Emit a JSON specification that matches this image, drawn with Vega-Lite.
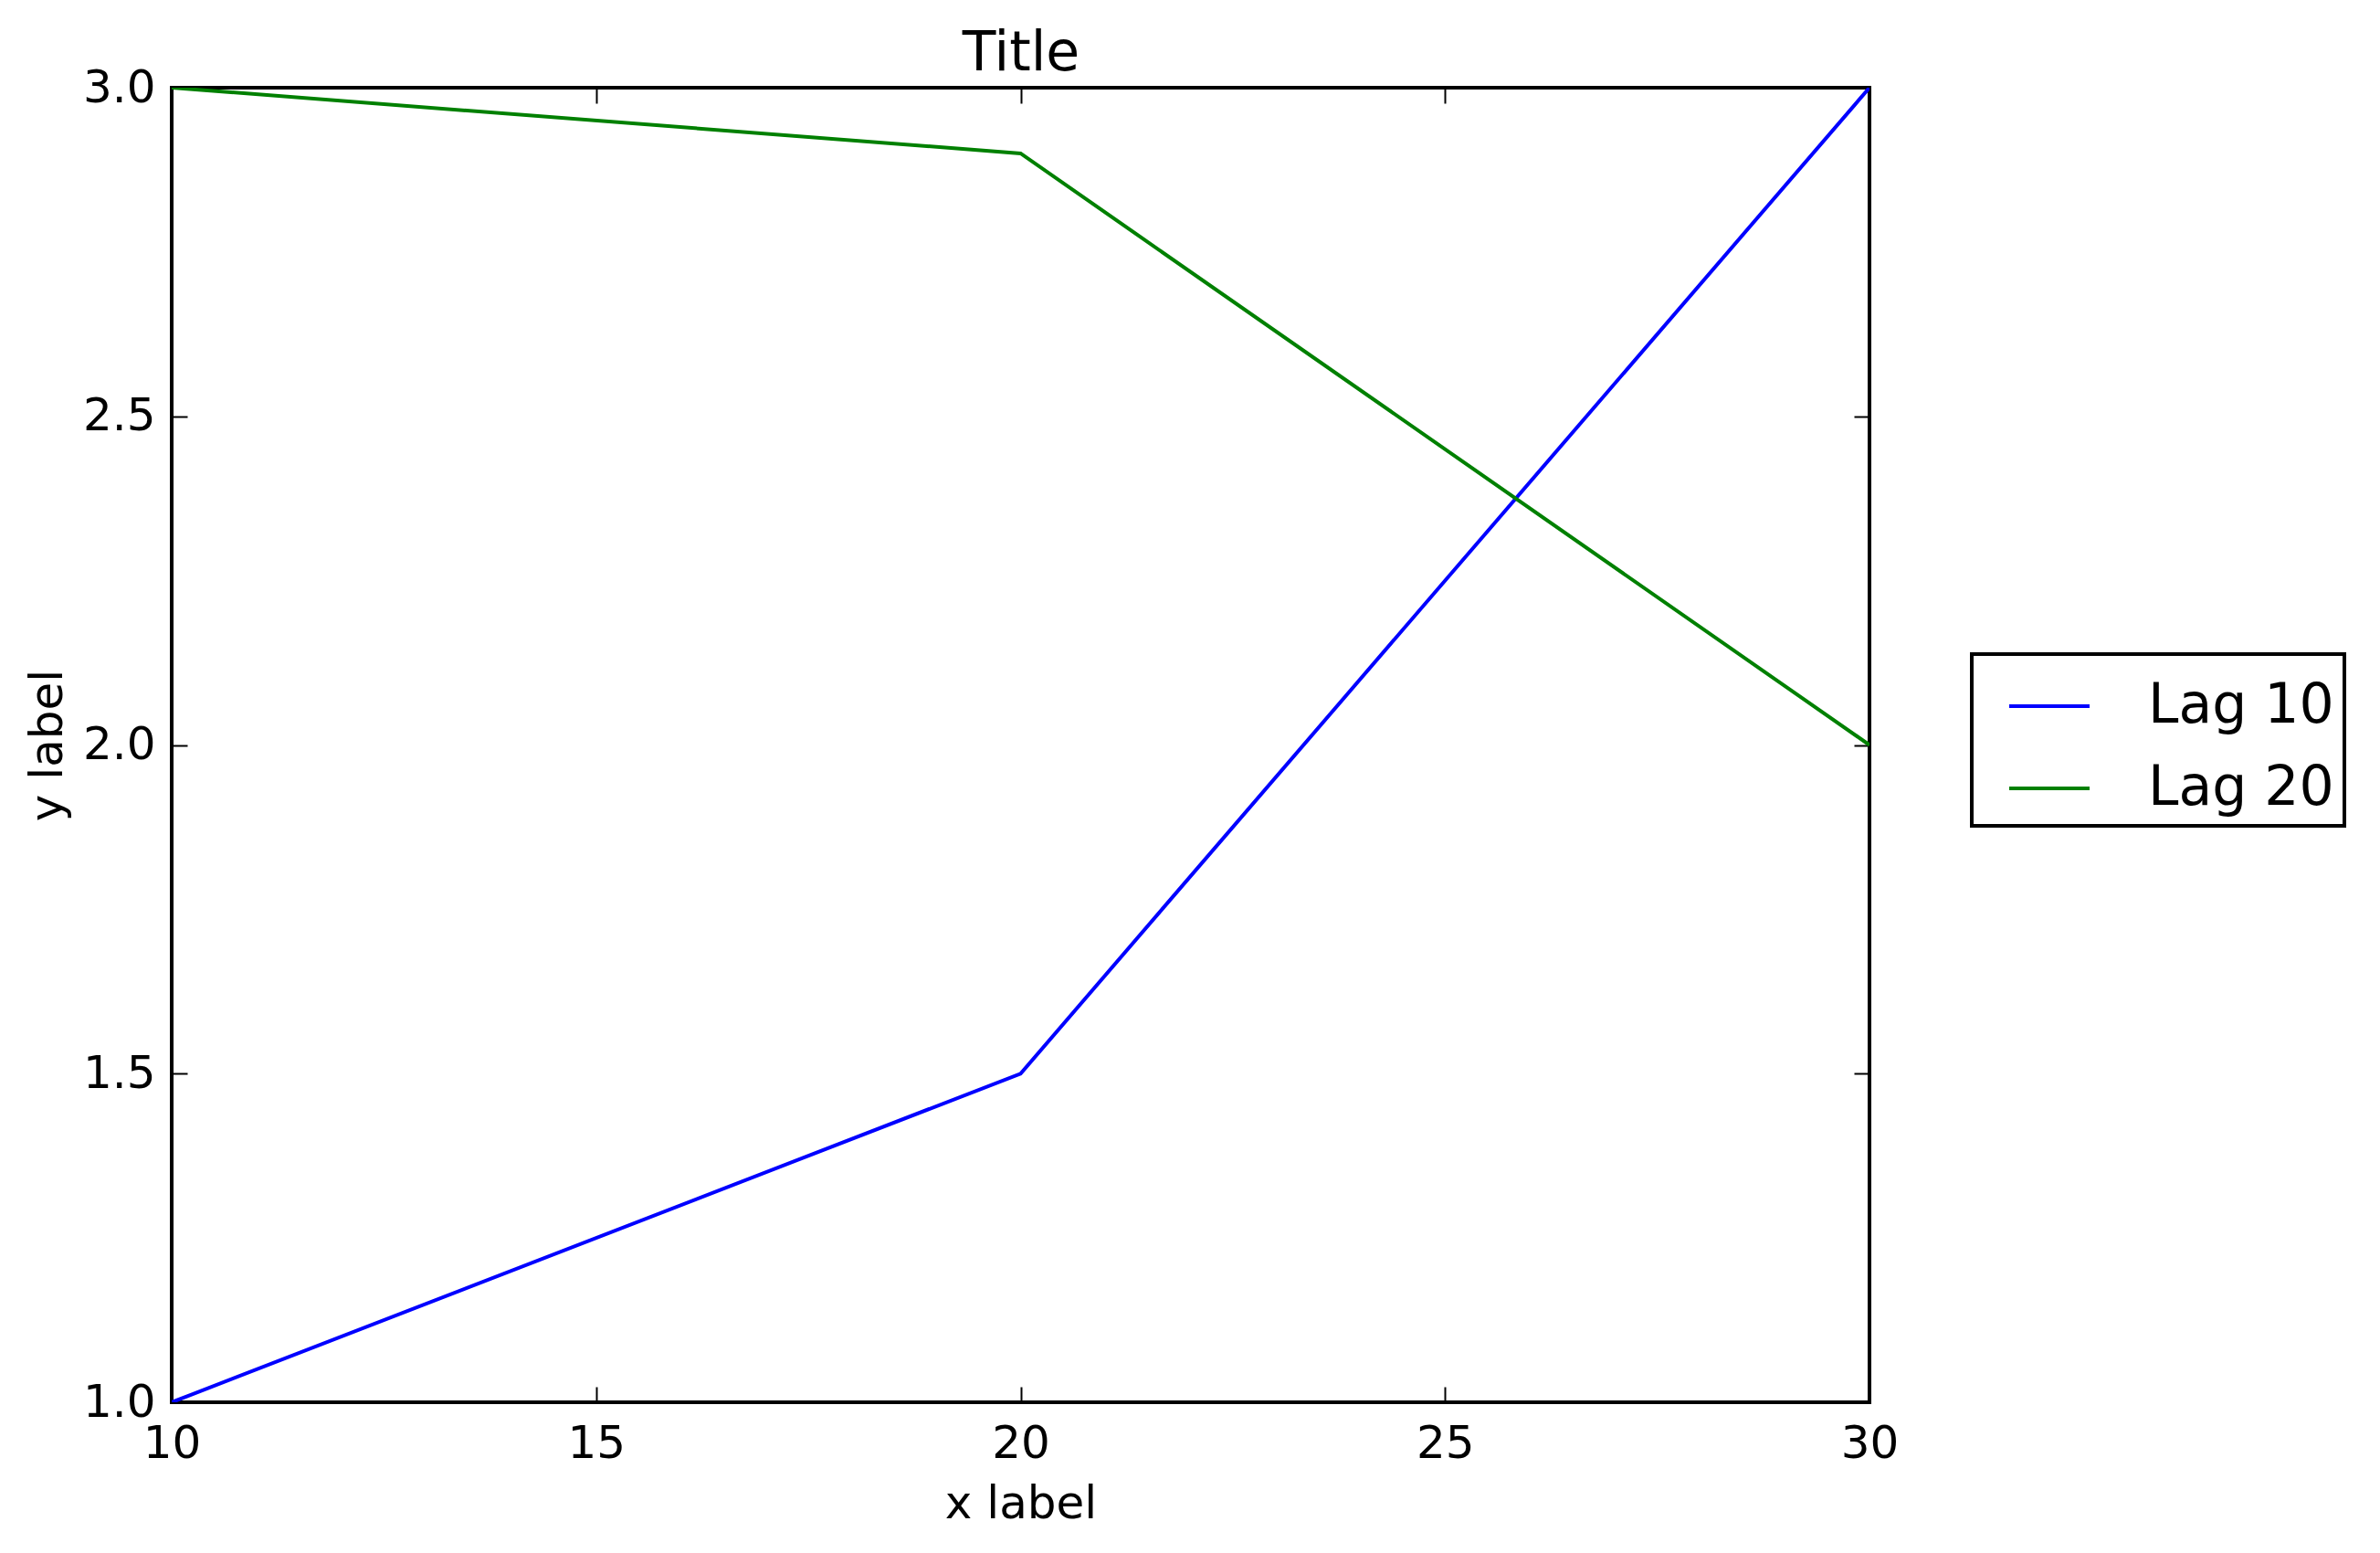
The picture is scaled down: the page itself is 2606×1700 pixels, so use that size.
{
  "$schema": "https://vega.github.io/schema/vega-lite/v6.json",
  "autosize": {"type": "none"},
  "padding": {"left": 188, "top": 96, "right": 559, "bottom": 165},
  "width": 1859,
  "height": 1439,
  "background": "white",
  "config": {
    "font": "DejaVu Sans",
    "view": {"stroke": "black", "strokeWidth": 4},
    "axis": {"domain": false, "grid": false, "tickColor": "black", "tickWidth": 2, "tickSize": -17, "labelColor": "black", "labelFont": "DejaVu Sans", "labelFontSize": 50, "titleFont": "DejaVu Sans", "titleFontSize": 50, "titleFontWeight": "normal", "titleColor": "black"},
    "legend": {"strokeColor": "black", "strokeWidth": 4, "fillColor": "white", "cornerRadius": 0}
  },
  "data": {"values": [
    {"x": 10, "y": 1.0, "series": "Lag 10"},
    {"x": 20, "y": 1.5, "series": "Lag 10"},
    {"x": 30, "y": 3.0, "series": "Lag 10"},
    {"x": 10, "y": 3.0, "series": "Lag 20"},
    {"x": 20, "y": 2.9, "series": "Lag 20"},
    {"x": 30, "y": 2.0, "series": "Lag 20"}
  ]},
  "layer": [
    {
      "mark": {"type": "line", "strokeWidth": 4, "clip": true},
      "encoding": {
        "x": {"field": "x", "type": "quantitative", "scale": {"domain": [10, 30], "nice": false, "zero": false},
              "axis": {"orient": "bottom", "values": [10, 15, 20, 25, 30], "format": "d", "labelPadding": 37, "labelBaseline": "top", "labelFlush": false, "title": "x label", "titleBaseline": "alphabetic", "titleY": 126}},
        "y": {"field": "y", "type": "quantitative", "scale": {"domain": [1, 3], "nice": false, "zero": false},
              "axis": {"orient": "left", "values": [1, 1.5, 2, 2.5, 3], "format": ".1f", "labelPadding": 35, "labelFlush": false, "title": "y label", "titleAngle": 270, "titleBaseline": "alphabetic", "titleX": -121, "titleY": 719.5, "titleAlign": "center"}},
        "color": {"field": "series", "type": "nominal",
                  "scale": {"domain": ["Lag 10", "Lag 20"], "range": ["#0000ff", "#008000"]},
                  "legend": {"orient": "none", "legendX": 1971, "legendY": 620, "title": null, "symbolType": "stroke", "symbolSize": 7744, "symbolStrokeWidth": 4, "labelFontSize": 60, "labelFont": "DejaVu Sans", "labelColor": "black", "labelLimit": 0, "labelOffset": 62, "symbolOffset": 28, "padding": 11, "rowPadding": 14}}
      }
    },
    {
      "mark": {"type": "line", "opacity": 0},
      "encoding": {
        "x": {"field": "x", "type": "quantitative", "axis": {"orient": "top", "values": [10, 15, 20, 25, 30], "labels": false, "title": "Title", "titleFontSize": 60, "titleBaseline": "alphabetic", "titleAlign": "center", "titleX": 929.5, "titleY": -20}},
        "y": {"field": "y", "type": "quantitative", "axis": {"orient": "right", "values": [1, 1.5, 2, 2.5, 3], "labels": false, "title": null}}
      }
    }
  ],
  "resolve": {"axis": {"x": "independent", "y": "independent"}}
}
